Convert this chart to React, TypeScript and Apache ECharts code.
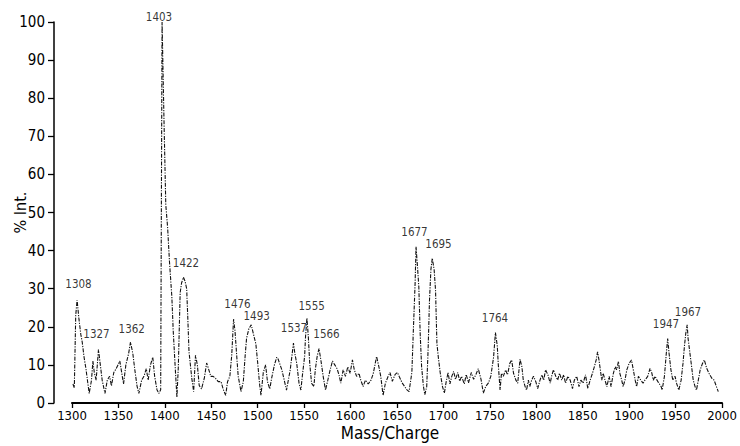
import React, { useEffect, useRef } from "react";
import * as echarts from "echarts";

// Spectrum trace: [mass/charge, % intensity]
const spectrum: [number, number][] = [
  [1301, 5], [1302.5, 4], [1304, 23], [1305.5, 27], [1307.5, 22], [1309.5, 18], [1311, 16], [1313, 12], [1315, 9], [1318.5, 2.5],
  [1321, 6], [1322.5, 11], [1324, 8], [1326, 6], [1328.5, 14], [1330.5, 10], [1332.5, 6], [1335.5, 2.5], [1338, 6], [1340.5, 7],
  [1342.5, 4.5], [1345, 8], [1347.5, 9], [1349.5, 10], [1351.5, 11], [1353.5, 8], [1355.5, 5], [1358, 10], [1361, 13], [1363, 16],
  [1365.5, 13], [1367.5, 9], [1370, 4.5], [1372, 2.5], [1375, 6], [1377.5, 7], [1380, 9], [1382, 6], [1384.5, 10], [1387, 12],
  [1389, 7], [1391.5, 3.5], [1393.5, 2.5], [1395.5, 3.5],
  [1397, 100], [1399, 75], [1401, 52], [1403, 46], [1405, 37], [1407.5, 28], [1409, 19], [1411, 10], [1413, 1.5], [1414.5, 9.5],
  [1416.5, 29], [1418, 31.5], [1420, 33], [1421.7, 32], [1423.5, 30], [1424.6, 23], [1426, 13.5], [1429, 6.5], [1431, 3],
  [1433, 12.5], [1435, 10], [1437, 4.6], [1439.5, 3.7], [1442.5, 6.5], [1445, 10.5], [1447, 9], [1449.5, 7], [1452, 7], [1454.5, 6.5],
  [1457.5, 5.6], [1460.5, 5.6], [1463, 3.5], [1465.5, 2], [1467.5, 5.6], [1470, 7], [1472, 12.5], [1474, 22], [1475.5, 19], [1477.5, 12],
  [1479, 7], [1482, 3], [1484.5, 5.6], [1486.5, 12.5], [1488, 17], [1490.5, 19.5], [1493, 20.5], [1495.5, 18], [1498, 15.5], [1500, 10.5],
  [1502, 5], [1503.5, 2], [1506, 8], [1508.5, 10], [1510.5, 5.6], [1513, 3.7], [1515, 6.5], [1518, 10], [1520.5, 12],
  [1522, 11.5], [1526, 8.7], [1531, 3.4], [1535, 8.7], [1538.5, 15.7], [1540, 13], [1542, 10.4], [1544.5, 5.2], [1546.5, 3.4], [1548, 7],
  [1550.5, 12.2], [1551.5, 17.4], [1553, 22.3], [1554.5, 17.4], [1556, 10.4], [1558, 5.2], [1560.5, 4.3], [1562, 8.7], [1564, 12.2], [1566, 14.3],
  [1568, 11.3], [1570.5, 7], [1573, 3.4], [1575.5, 6], [1578, 8.7], [1580.5, 11], [1583, 10], [1585.5, 9], [1587.5, 7.4], [1589.5, 5.2],
  [1592, 8.7], [1594.5, 7], [1597, 9.5], [1599.5, 7.8], [1602, 11.3], [1604, 8.7], [1606.5, 7], [1609, 7.8], [1611, 6], [1613.5, 4.3],
  [1616, 6], [1619, 5], [1622, 6], [1624.5, 7.8], [1628, 12.2], [1630.5, 9.5], [1632.5, 7], [1635, 2], [1637.5, 5.2], [1640.5, 7],
  [1642.5, 8], [1645, 5.7], [1648, 7.5], [1650.5, 8], [1653, 6.6], [1655.5, 5.3], [1658, 4.4], [1660.5, 3.5], [1663, 3], [1666, 8],
  [1667.5, 18.3], [1669.5, 31.4], [1670.5, 41], [1672, 36], [1673.5, 30.5], [1675, 18], [1676.5, 9.5], [1678.5, 4.3], [1680, 2.2], [1682, 4.3],
  [1683.5, 14], [1685, 27], [1686.5, 35], [1688, 38], [1690, 35], [1691.5, 29.6], [1693, 15.6], [1694.5, 12], [1696.5, 8], [1699, 4.3],
  [1701, 2.6], [1703, 5.6], [1705, 8], [1707, 5], [1709, 7], [1711, 8.3], [1713, 6.2], [1715.5, 8], [1717.5, 5.7], [1719.5, 7],
  [1722.5, 5], [1724.5, 7.5], [1727, 5.3], [1730, 8], [1732.5, 6.2], [1735, 7.5], [1737.5, 9], [1740.5, 6.2], [1743, 2.6], [1745.5, 4.3],
  [1748.5, 5.3], [1751, 7], [1754, 12], [1756, 18.5], [1758, 15], [1759, 10.4], [1761, 3.4], [1762.5, 7.8], [1764.5, 7], [1767, 8.7],
  [1769, 7.4], [1771.5, 10.4], [1773.5, 11.3], [1775.5, 7.8], [1778, 6], [1780, 5.2], [1782.5, 11.5], [1784.5, 9.5], [1786, 6], [1788, 4.3],
  [1789.5, 3.4], [1791.5, 6], [1793, 4.3], [1795, 6], [1797, 7], [1799.5, 5.6], [1801.5, 3.8], [1804, 6], [1806, 7.4], [1808, 6],
  [1810, 8.7], [1812.5, 7.4], [1815, 5.2], [1816.5, 7], [1818.5, 8.7], [1821, 7], [1823, 6], [1825, 7.8], [1827.5, 6], [1829.5, 7.4],
  [1831.5, 5.2], [1834, 7], [1836.5, 6], [1839, 3.8], [1841, 6], [1843.5, 7], [1846, 4.3], [1848, 6], [1850.5, 5.2], [1853, 7.4],
  [1855.5, 3.8], [1858, 6], [1860.5, 7.8], [1862.5, 9.5], [1864.5, 11.3], [1866, 13.4], [1867.5, 11.3], [1869, 8.7], [1870.5, 6], [1872, 7.8],
  [1874, 6], [1876, 4.3], [1878.5, 7], [1880.5, 4.3], [1883, 7.8], [1885, 9.5], [1886.5, 8.7], [1888.5, 10.9], [1890, 7.8], [1892, 6],
  [1893.5, 4.3], [1895.5, 6], [1897.5, 8.7], [1900, 10.4], [1902.5, 11.3], [1904.5, 8.7], [1906.5, 6], [1908, 4.3], [1910, 7], [1912.5, 6],
  [1915, 5.2], [1917, 6], [1920, 7], [1922.5, 9.1], [1924.5, 7.8], [1926, 6], [1928, 7], [1930, 6], [1932, 5.2], [1934.5, 4.3],
  [1935.5, 3.4], [1938, 7], [1940, 13], [1941.5, 16.9], [1943, 13], [1945, 8.7], [1947, 6], [1949.5, 7], [1951, 5.2], [1953.5, 3.4],
  [1956, 6], [1958, 10.4], [1959.5, 14.8], [1961, 18.3], [1962.5, 20.5], [1963.5, 16.9], [1965.5, 13], [1967.5, 9.1], [1969, 6], [1971, 4.3],
  [1972.5, 3.4], [1974.5, 6], [1976.5, 8.7], [1979, 10.4], [1981, 11.3], [1983.5, 9.1], [1986, 7.8], [1989, 6.5], [1991.5, 6], [1994, 4.3],
  [1996, 3],
];

// Peak annotations: text, and the (mass, intensity) where the text sits
const peakTexts = ["1308", "1327", "1362", "1403", "1422", "1476", "1493", "1537", "1555", "1566", "1677", "1695", "1764", "1947", "1967"];
const peakLabelMass = [1307, 1326.4, 1364.3, 1393.7, 1422.8, 1478.2, 1498.9, 1539.1, 1558.1, 1574.1, 1668.8, 1694.7, 1755.5, 1939.7, 1963.4];
const peakLabelIntensity = [31.2, 18.1, 19.4, 101.2, 36.7, 26.0, 22.8, 19.6, 25.5, 18.2, 44.8, 41.7, 22.4, 20.7, 23.9];

const xTicks = { min: 1300, max: 2000, interval: 50 };
const yTicks = { min: 0, max: 100, interval: 10 };

const FONT = "'DejaVu Sans Condensed', 'Liberation Sans Narrow', 'DejaVu Sans', sans-serif";

export default function App() {
  const ref = useRef<HTMLDivElement>(null);
  useEffect(() => {
    if (!ref.current) return;
    const chart = echarts.init(ref.current, undefined, { renderer: "svg" });
    chart.setOption({
      animation: false,
      backgroundColor: "#ffffff",
      textStyle: { fontFamily: FONT, color: "#000" },
      grid: { left: 72, right: 18, top: 22, bottom: 43, containLabel: false, outerBoundsMode: "none" },
      xAxis: {
        type: "value",
        min: xTicks.min,
        max: xTicks.max,
        interval: xTicks.interval,
        name: "Mass/Charge",
        nameLocation: "middle",
        nameGap: 21,
        nameMoveOverlap: false,
        nameTextStyle: { fontSize: 17, lineHeight: 18, color: "#000", fontFamily: FONT, padding: [0, 14, 0, 0] },
        axisLine: { show: true, lineStyle: { color: "#000", width: 2 } },
        axisTick: { show: true, length: 5, lineStyle: { color: "#000", width: 1.3 } },
        axisLabel: { fontSize: 13, lineHeight: 12, color: "#000", margin: 6, fontFamily: FONT, formatter: (v: number) => String(v) },
        splitLine: { show: false },
      },
      yAxis: {
        type: "value",
        min: yTicks.min,
        max: yTicks.max,
        interval: yTicks.interval,
        offset: 18,
        name: "% Int.",
        nameLocation: "middle",
        nameGap: 26,
        nameRotate: 90,
        nameMoveOverlap: false,
        nameTextStyle: { fontSize: 16, color: "#000", fontFamily: FONT },
        axisLine: { show: true, lineStyle: { color: "#000", width: 1.5 } },
        axisTick: { show: true, length: 6, lineStyle: { color: "#000", width: 1.3 } },
        axisLabel: { fontSize: 15, color: "#000", margin: 9, fontFamily: FONT },
        splitLine: { show: false },
      },
      series: [
        {
          type: "line",
          data: spectrum,
          showSymbol: false,
          symbol: "none",
          clip: false,
          lineStyle: { color: "#111", width: 1.1, type: [4, 1.3, 1.2, 1.3] },
          silent: true,
        },
        {
          type: "scatter",
          clip: false,
          symbolSize: 1,
          silent: true,
          itemStyle: { color: "rgba(0,0,0,0)" },
          data: peakTexts.map((t, i) => ({ name: t, value: [peakLabelMass[i], peakLabelIntensity[i]] })),
          label: {
            show: true,
            position: "inside",
            formatter: "{b}",
            fontSize: 11.5,
            color: "#000",
            fontFamily: FONT,
          },
        },
      ],
    });
    return () => chart.dispose();
  }, []);
  return (
    <div
      ref={ref}
      style={{ position: "fixed", left: 0, top: 0, width: 740, height: 446, background: "#fff" }}
    />
  );
}
